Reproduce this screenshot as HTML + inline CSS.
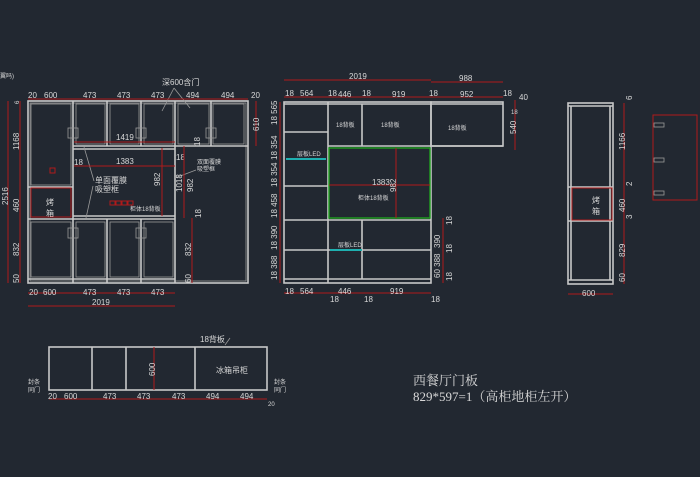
<!DOCTYPE html>
<html><head><meta charset="utf-8"><style>
html,body{margin:0;padding:0;background:#222831;}
svg{display:block}
text{font-family:"Liberation Sans","Noto Sans CJK SC",sans-serif;fill:#d8d8d8;font-size:8px}
.w{stroke:#c8c8c8;stroke-width:1.6;fill:none}
.t{stroke:#9a9a9a;stroke-width:0.8;fill:none}
.r{stroke:#b01a1a;stroke-width:1;fill:none}
.g{stroke:#1fa01f;stroke-width:1.4;fill:none}
.c{stroke:#1fb0b0;stroke-width:2;fill:none}
.s{font-size:6px}
</style></head><body>
<svg width="700" height="477" viewBox="0 0 700 477" xmlns="http://www.w3.org/2000/svg">
<rect width="700" height="477" fill="#222831"/>
<text x="0" y="78" class="s">翼吗)</text>

<!-- ===== LEFT ELEVATION ===== -->
<g>
<rect class="w" x="28" y="101" width="220" height="182"/>
<rect class="t" x="30" y="103" width="216" height="178"/>
<!-- upper doors -->
<line class="w" x1="73" y1="101" x2="73" y2="283"/>
<line class="w" x1="107" y1="101" x2="107" y2="146"/>
<line class="w" x1="141" y1="101" x2="141" y2="146"/>
<line class="w" x1="175" y1="101" x2="175" y2="283"/>
<line class="w" x1="211" y1="101" x2="211" y2="146"/>
<line class="w" x1="73" y1="146" x2="248" y2="146"/>
<line class="w" x1="73" y1="149" x2="175" y2="149"/>
<line class="w" x1="28" y1="187" x2="73" y2="187"/>
<line class="w" x1="28" y1="219" x2="175" y2="219"/>
<line class="w" x1="73" y1="216" x2="175" y2="216"/>
<line class="w" x1="107" y1="219" x2="107" y2="283"/>
<line class="w" x1="141" y1="219" x2="141" y2="283"/>
<line class="w" x1="28" y1="279" x2="175" y2="279"/>
<rect class="t" x="31" y="104" width="40" height="81"/>
<rect class="t" x="76" y="104" width="29" height="40"/>
<rect class="t" x="110" y="104" width="29" height="40"/>
<rect class="t" x="144" y="104" width="29" height="40"/>
<rect class="t" x="178" y="104" width="31" height="40"/>
<rect class="t" x="213" y="104" width="31" height="40"/>
<rect class="t" x="31" y="222" width="40" height="55"/>
<rect class="t" x="76" y="222" width="29" height="55"/>
<rect class="t" x="110" y="222" width="29" height="55"/>
<rect class="t" x="144" y="222" width="29" height="55"/>
<!-- handles -->
<rect class="t" x="68" y="128" width="10" height="10"/>
<rect class="t" x="136" y="128" width="10" height="10"/>
<rect class="t" x="206" y="128" width="10" height="10"/>
<rect class="t" x="68" y="228" width="10" height="10"/>
<rect class="t" x="136" y="228" width="10" height="10"/>
<!-- oven -->
<rect class="r" x="31" y="188" width="40" height="29" stroke-width="1.5"/>
<text x="46" y="205" font-size="9">烤</text><text x="46" y="216" font-size="9">箱</text>
<rect class="r" x="50" y="168" width="5" height="5"/>
<rect class="r" x="110" y="201" width="5" height="4"/><rect class="r" x="116" y="201" width="5" height="4"/><rect class="r" x="122" y="201" width="5" height="4"/><rect class="r" x="128" y="201" width="5" height="4"/>
<text x="130" y="211" class="s">柜体18背板</text>
<text x="95" y="183" font-size="8">单面覆膜</text><text x="95" y="192" font-size="8">吸塑框</text>
<line class="t" x1="84" y1="147" x2="94" y2="181"/><line class="t" x1="93" y1="186" x2="86" y2="218"/>
<text x="197" y="164" class="s">双面覆膜</text><text x="197" y="171" class="s">吸塑框</text>
<line class="t" x1="196" y1="170" x2="175" y2="178"/>
<text x="162" y="85" font-size="8">深600含门</text>
<line class="t" x1="174" y1="88" x2="162" y2="111"/><line class="t" x1="174" y1="88" x2="190" y2="108"/>
<!-- red dims -->
<line class="r" x1="28" y1="99" x2="248" y2="99"/>
<text x="28" y="98">20</text><text x="44" y="98">600</text><text x="83" y="98">473</text><text x="117" y="98">473</text><text x="151" y="98">473</text><text x="186" y="98">494</text><text x="221" y="98">494</text><text x="251" y="98">20</text>
<line class="r" x1="74" y1="142" x2="175" y2="142"/><text x="116" y="140">1419</text>
<line class="r" x1="74" y1="166" x2="175" y2="166"/><text x="74" y="165">18</text><text x="116" y="164">1383</text><text x="176" y="160">18</text>
<line class="r" x1="162" y1="148" x2="162" y2="216"/>
<text transform="translate(160,186) rotate(-90)">982</text>
<line class="r" x1="184" y1="146" x2="184" y2="218"/>
<text transform="translate(182,192) rotate(-90)">1018</text>
<text transform="translate(193,192) rotate(-90)">982</text>
<line class="r" x1="192" y1="218" x2="192" y2="283"/>
<text transform="translate(201,218) rotate(-90)">18</text>
<text transform="translate(191,256) rotate(-90)">832</text>
<text transform="translate(191,283) rotate(-90)">60</text>
<text transform="translate(200,146) rotate(-90)">18</text>
<line class="r" x1="8" y1="101" x2="8" y2="283"/>
<text transform="translate(8,205) rotate(-90)">2516</text>
<line class="r" x1="20" y1="101" x2="20" y2="283"/>
<text transform="translate(19,150) rotate(-90)">1168</text>
<text transform="translate(19,212) rotate(-90)">460</text>
<text transform="translate(19,256) rotate(-90)">832</text>
<text transform="translate(19,283) rotate(-90)">50</text>
<text transform="translate(19,104) rotate(-90)" class="s">6</text>
<line class="r" x1="256" y1="101" x2="256" y2="146"/>
<text transform="translate(259,131) rotate(-90)">610</text>
<line class="r" x1="28" y1="293" x2="175" y2="293"/>
<text x="29" y="295">20</text><text x="43" y="295">600</text><text x="83" y="295">473</text><text x="117" y="295">473</text><text x="151" y="295">473</text>
<line class="r" x1="28" y1="306" x2="175" y2="306"/><text x="92" y="305">2019</text>
</g>

<!-- ===== MIDDLE ELEVATION ===== -->
<g>
<rect class="w" x="284" y="102" width="147" height="181"/>
<line class="w" x1="284" y1="104" x2="503" y2="104"/>
<rect class="w" x="431" y="102" width="72" height="44"/>
<line class="w" x1="328" y1="102" x2="328" y2="283"/>
<line class="w" x1="362" y1="104" x2="362" y2="146"/>
<line class="w" x1="328" y1="146" x2="503" y2="146"/>
<line class="w" x1="284" y1="132" x2="328" y2="132"/>
<line class="w" x1="284" y1="186" x2="328" y2="186"/>
<line class="w" x1="284" y1="220" x2="431" y2="220"/>
<line class="w" x1="284" y1="250" x2="431" y2="250"/>
<line class="w" x1="284" y1="279" x2="431" y2="279"/>
<line class="w" x1="362" y1="220" x2="362" y2="279"/>
<line class="c" x1="286" y1="159" x2="326" y2="159"/>
<line class="c" x1="330" y1="250" x2="362" y2="250"/>
<text x="297" y="156" class="s">层板LED</text><text x="338" y="247" class="s">层板LED</text>
<rect class="g" x="329" y="148" width="101" height="70"/>
<line class="r" x1="396" y1="148" x2="396" y2="218"/>
<line class="r" x1="329" y1="185" x2="430" y2="185"/>
<text x="372" y="185">1383</text>
<text transform="translate(396,192) rotate(-90)">982</text>
<text x="358" y="200" class="s">柜体18背板</text>
<text x="336" y="127" class="s">18背板</text><text x="381" y="127" class="s">18背板</text><text x="448" y="130" class="s">18背板</text>
<line class="r" x1="284" y1="80" x2="431" y2="80"/><line class="r" x1="431" y1="82" x2="503" y2="82"/>
<text x="349" y="79">2019</text><text x="459" y="81">988</text>
<line class="r" x1="284" y1="97" x2="503" y2="97"/>
<text x="285" y="96">18</text><text x="300" y="96">564</text><text x="328" y="96">18</text><text x="338" y="97">446</text><text x="362" y="96">18</text><text x="392" y="97">919</text><text x="429" y="96">18</text><text x="460" y="97">952</text><text x="503" y="96">18</text>
<line class="r" x1="280" y1="102" x2="280" y2="283"/>
<text transform="translate(277,125) rotate(-90)">18 565</text>
<text transform="translate(277,160) rotate(-90)">18 354</text>
<text transform="translate(277,187) rotate(-90)">18 354</text>
<text transform="translate(277,218) rotate(-90)">18 458</text>
<text transform="translate(277,250) rotate(-90)">18 390</text>
<text transform="translate(277,280) rotate(-90)">18 388</text>
<line class="r" x1="515" y1="100" x2="515" y2="150"/>
<text transform="translate(516,134) rotate(-90)">540</text>
<text x="519" y="100">40</text><text x="511" y="114" class="s">18</text>
<line class="r" x1="443" y1="218" x2="443" y2="283"/>
<text transform="translate(440,248) rotate(-90)">390</text>
<text transform="translate(440,278) rotate(-90)">60 388</text>
<text transform="translate(452,225) rotate(-90)">18</text><text transform="translate(452,253) rotate(-90)">18</text><text transform="translate(452,281) rotate(-90)">18</text>
<line class="r" x1="284" y1="293" x2="431" y2="293"/>
<text x="285" y="294">18</text><text x="300" y="294">564</text><text x="338" y="294">446</text><text x="390" y="294">919</text>
<text x="330" y="302">18</text><text x="364" y="302">18</text><text x="431" y="302">18</text>
</g>

<!-- ===== RIGHT ELEVATION ===== -->
<g>
<rect class="w" x="568" y="103" width="45" height="181"/>
<line class="w" x1="568" y1="106" x2="613" y2="106"/>
<line class="w" x1="568" y1="187" x2="613" y2="187"/>
<line class="w" x1="568" y1="221" x2="613" y2="221"/>
<line class="w" x1="568" y1="280" x2="613" y2="280"/>
<line class="w" x1="571" y1="106" x2="571" y2="280"/><line class="w" x1="610" y1="106" x2="610" y2="280"/>
<rect class="r" x="572" y="188" width="40" height="32" stroke-width="1.5"/>
<text x="592" y="203" font-size="9">烤</text><text x="592" y="214" font-size="9">箱</text>
<line class="r" x1="624" y1="103" x2="624" y2="284"/>
<text transform="translate(625,150) rotate(-90)">1166</text>
<text transform="translate(625,212) rotate(-90)">460</text>
<text transform="translate(625,257) rotate(-90)">829</text>
<text transform="translate(625,282) rotate(-90)">60</text>
<text transform="translate(632,100) rotate(-90)">6</text>
<text transform="translate(632,186) rotate(-90)">2</text>
<text transform="translate(632,219) rotate(-90)">3</text>
<line class="r" x1="568" y1="294" x2="613" y2="294"/><text x="582" y="296">600</text>
<rect class="r" x="653" y="115" width="44" height="85"/>
<rect class="t" x="654" y="123" width="10" height="4"/><rect class="t" x="654" y="158" width="10" height="4"/><rect class="t" x="654" y="191" width="10" height="4"/>
</g>

<!-- ===== BOTTOM HANGING CABINET ===== -->
<g>
<rect class="w" x="49" y="347" width="218" height="43"/>
<line class="w" x1="92" y1="347" x2="92" y2="390"/>
<line class="w" x1="126" y1="347" x2="126" y2="390"/>
<line class="w" x1="195" y1="347" x2="195" y2="390"/>
<line class="r" x1="154" y1="347" x2="154" y2="390"/>
<text transform="translate(155,376) rotate(-90)">600</text>
<text x="216" y="373" font-size="8">冰箱吊柜</text>
<text x="200" y="342" font-size="8">18背板</text>
<line class="t" x1="225" y1="345" x2="230" y2="338"/>
<text x="28" y="384" class="s">封条</text><text x="28" y="392" class="s">同门</text>
<text x="274" y="384" class="s">封条</text><text x="274" y="392" class="s">同门</text>
<line class="r" x1="49" y1="399" x2="267" y2="399"/>
<text x="48" y="399">20</text><text x="64" y="399">600</text><text x="103" y="399">473</text><text x="137" y="399">473</text><text x="172" y="399">473</text><text x="206" y="399">494</text><text x="240" y="399">494</text><text x="268" y="406" class="s">20</text>
</g>

<text x="413" y="385" style="font-family:'Liberation Serif','Noto Serif CJK SC',serif;font-size:13px">西餐厅门板</text>
<text x="413" y="401" style="font-family:'Liberation Serif','Noto Serif CJK SC',serif;font-size:13px">829*597=1（高柜地柜左开）</text>
</svg>
</body></html>
